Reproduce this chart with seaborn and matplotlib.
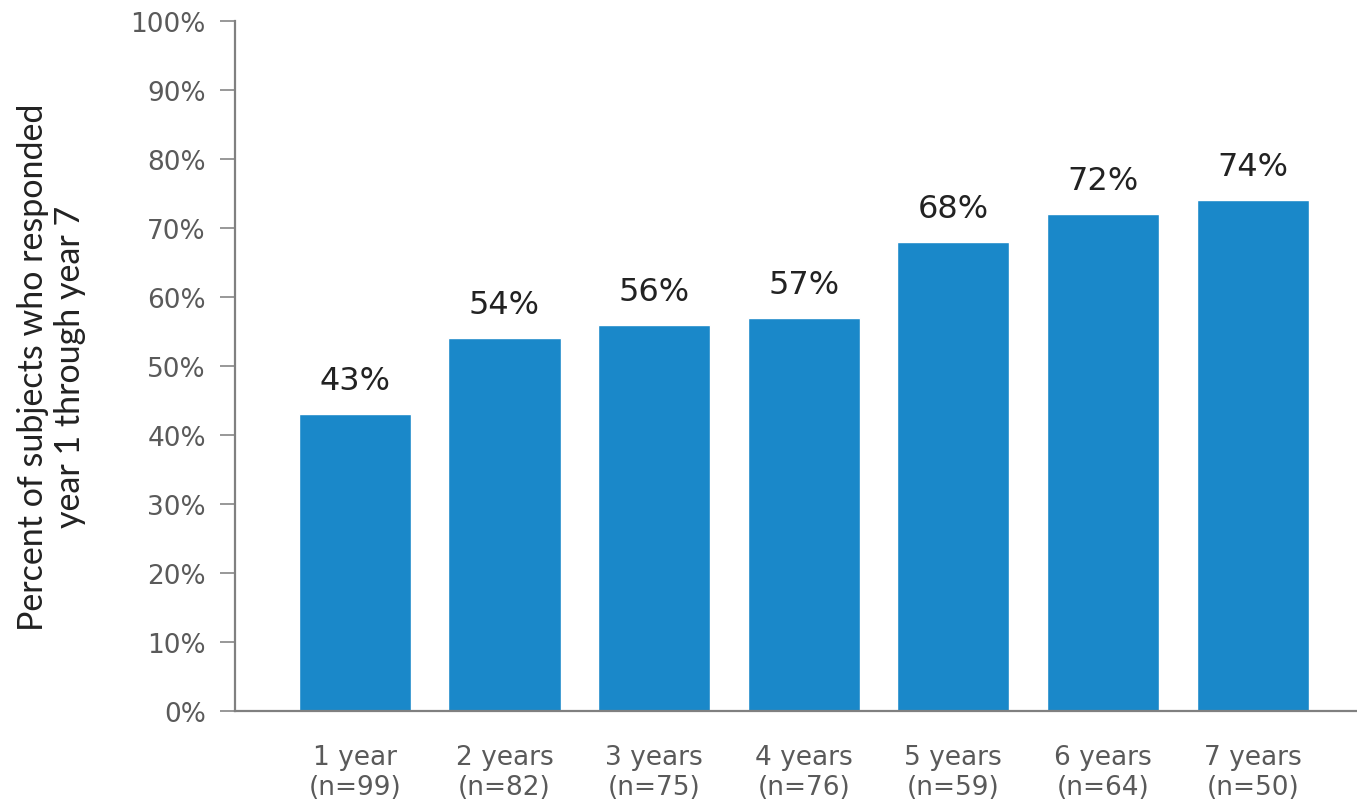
import matplotlib
matplotlib.use("Agg")
import matplotlib.pyplot as plt
import seaborn as sns
import pandas as pd

# values
categories = ["1 year\n(n=99)", "2 years\n(n=82)", "3 years\n(n=75)", "4 years\n(n=76)",
              "5 years\n(n=59)", "6 years\n(n=64)", "7 years\n(n=50)"]
percents = [43, 54, 56, 57, 68, 72, 74]
yticks = list(range(0, 101, 10))

df = pd.DataFrame({"group": categories, "pct": percents})

sns.set_style("white")
plt.rcParams["font.family"] = ["DejaVu Sans"]

fig = plt.figure(figsize=(13.57, 8.03), dpi=100)
ax = fig.add_axes([0.1732, 0.1133, 0.826, 0.8593])

sns.barplot(data=df, x="group", y="pct", color="#1a88c9", saturation=1, width=0.75, ax=ax)

for c in ax.containers:
    ax.bar_label(c, labels=[f"{v}%" for v in percents], padding=13,
                 fontsize=23, color="#222222")

ax.set_xlim(-0.8, 6.69)
ax.set_ylim(0, 100)
ax.set_yticks(yticks)
ax.set_yticklabels([f"{t}%" for t in yticks])
ax.set_xlabel("")
ax.set_ylabel("Percent of subjects who responded\nyear 1 through year 7",
              fontsize=24.5, color="#222222", labelpad=32, linespacing=1.2,
              family=["Lato", "DejaVu Sans"])

for s in ["top", "right"]:
    ax.spines[s].set_visible(False)
for s in ["left", "bottom"]:
    ax.spines[s].set_color("#808080")
    ax.spines[s].set_linewidth(1.6)

ax.tick_params(axis="y", left=True, length=11, width=1.3, color="#909090",
               labelsize=19, labelcolor="#5a5a5a", pad=10)
ax.tick_params(axis="x", bottom=False, labelsize=19, labelcolor="#5a5a5a", pad=20)
for lbl in ax.get_xticklabels():
    lbl.set_linespacing(1.2)

fig.savefig("out.png", dpi=100)
